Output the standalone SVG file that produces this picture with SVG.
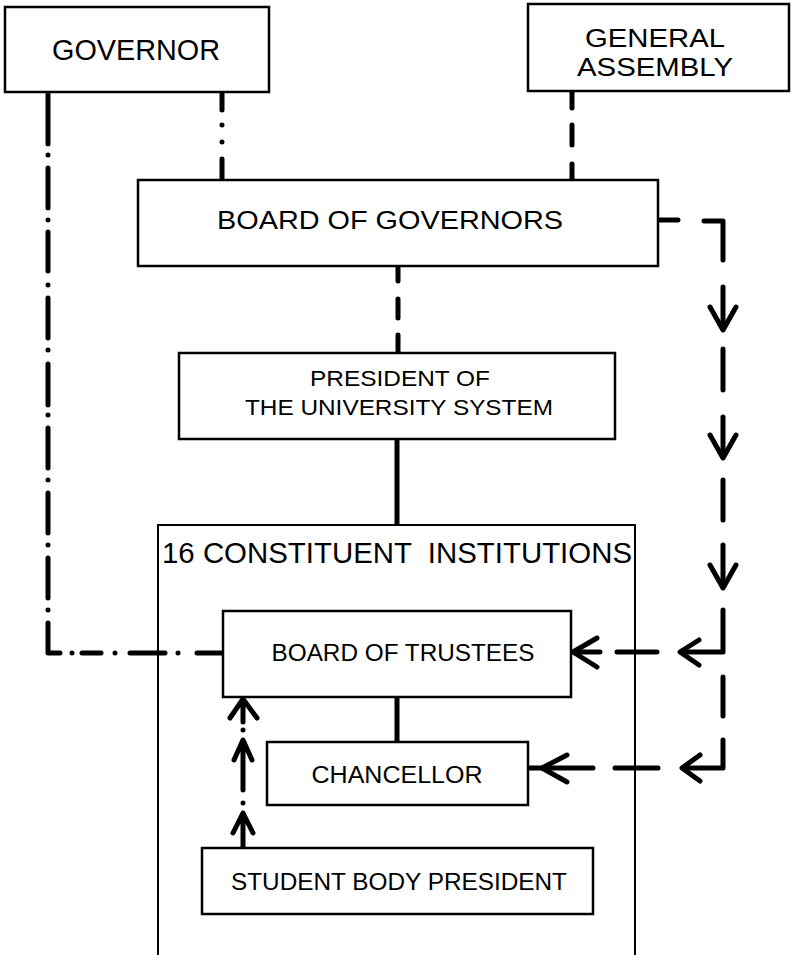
<svg xmlns="http://www.w3.org/2000/svg" width="793" height="955" viewBox="0 0 793 955">
<style>
.box{fill:#fff;stroke:#000;stroke-width:2.5}
.frame{fill:none;stroke:#000;stroke-width:2}
.conn{fill:none;stroke:#000;stroke-width:5;stroke-linecap:round;stroke-linejoin:round}
.solid{fill:none;stroke:#000;stroke-width:5;stroke-linecap:butt}
text{font-family:"Liberation Sans",Arial,Helvetica,sans-serif;fill:#000;text-anchor:middle}
.t29{font-size:29px}
.t26{font-size:25px}
.t25{font-size:25px}
.t23{font-size:23px}
.t22{font-size:22px}
</style>
<rect width="793" height="955" fill="#fff"/>
<g id="connectors">
  <path class="conn" d="M48,94 V144 M48,155 v0 M48,168 V208 M48,220 v0 M48,232 V271 M48,285 v0 M48,298 V338 M48,350 v0 M48,364 V405 M48,415 v0 M48,428 V468 M48,480 v0 M48,493 V533 M48,545 v0 M48,558 V598 M48,610 v0 M48,623 V653 H60 M72,653 h0 M82,653 H101 M115,653 h0 M130,653 H165 M178,653 h0 M197,653 H223"/>
  <path class="conn" d="M222,93 V110 M222,125 v0 M222,142 v0 M222,159 V180"/>
  <path class="conn" d="M572,92 V108 M572,125 V145 M572,164 V180"/>
  <path class="conn" d="M398,267 V281 M398,299 V318 M398,335 V353"/>
  <path class="solid" d="M397,439 V525 M397,697 V742"/>
  <path class="conn" d="M658,220 H678 M704,221 H723 V260 M723,287 V329 M723,349 V390 M723,417 V457 M723,480 V520 M723,545 V587 M723,610 V652 H681 M657,652 H617 M600,652 H574 M723,677 V716 M723,740 V768 H683 M658,768 H615 M593,768 H530"/>
  <path class="conn" d="M710,307 L723,330 L736,307 M710,435 L723,458 L736,435 M710,565 L723,588 L736,565 M699,640 L680,652 L699,665 M597,638 L573,652 L597,667 M700,755 L682,768 L700,781 M567,755 L542,768 L567,782"/>
  <path class="conn" d="M243,848 V815 M233,833 L243,813 L253,833 M243,803 v0 M243,790 V742 M234,760 L243,740 L252,760 M243,730 v0 M243,722 V700 M230,718 L243,699 L257,718"/>
</g>
<g id="governor">
  <rect class="box" x="5" y="7" width="264" height="85"/>
  <text class="t29" x="136" y="60" textLength="168" lengthAdjust="spacingAndGlyphs">GOVERNOR</text>
</g>
<g id="general-assembly">
  <rect class="box" x="528" y="4" width="261" height="87"/>
  <text class="t26" x="655" y="47" textLength="140" lengthAdjust="spacingAndGlyphs">GENERAL</text>
  <text class="t26" x="655" y="76" textLength="156" lengthAdjust="spacingAndGlyphs">ASSEMBLY</text>
</g>
<g id="board-of-governors">
  <rect class="box" x="138" y="180" width="520" height="86"/>
  <text class="t25" x="390" y="229" textLength="346" lengthAdjust="spacingAndGlyphs">BOARD OF GOVERNORS</text>
</g>
<g id="president">
  <rect class="box" x="179" y="353" width="436" height="86"/>
  <text class="t22" x="400" y="386" textLength="180" lengthAdjust="spacingAndGlyphs">PRESIDENT OF</text>
  <text class="t22" x="399" y="415" textLength="308" lengthAdjust="spacingAndGlyphs">THE UNIVERSITY SYSTEM</text>
</g>
<g id="constituent-institutions">
  <path class="frame" d="M158,955 V525 H635 V955"/>
  <text class="t29" x="397" y="563" textLength="470" lengthAdjust="spacingAndGlyphs" xml:space="preserve">16 CONSTITUENT  INSTITUTIONS</text>
</g>
<g id="board-of-trustees">
  <rect class="box" x="223" y="611" width="348" height="86"/>
  <text class="t23" x="403" y="661" textLength="263" lengthAdjust="spacingAndGlyphs">BOARD OF TRUSTEES</text>
</g>
<g id="chancellor">
  <rect class="box" x="267" y="742" width="261" height="63"/>
  <text class="t23" x="397" y="783" textLength="171" lengthAdjust="spacingAndGlyphs">CHANCELLOR</text>
</g>
<g id="student-body-president">
  <rect class="box" x="202" y="848" width="391" height="66"/>
  <text class="t23" x="399" y="890" textLength="336" lengthAdjust="spacingAndGlyphs">STUDENT BODY PRESIDENT</text>
</g>
</svg>
